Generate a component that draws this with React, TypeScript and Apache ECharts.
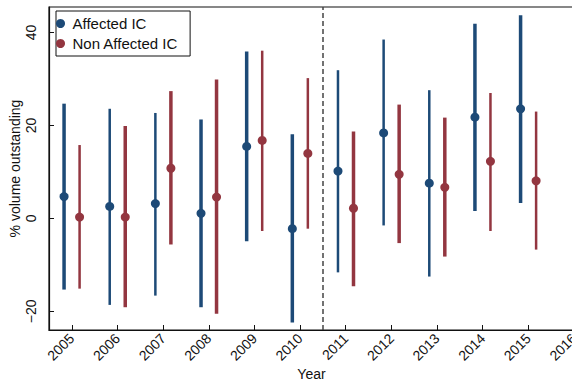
import React, { useEffect, useRef } from "react";
import * as echarts from "echarts";

const years = [2005, 2006, 2007, 2008, 2009, 2010, 2011, 2012, 2013, 2014, 2015];
const affectedMean = [4.7, 2.6, 3.2, 1.1, 15.5, -2.2, 10.2, 18.4, 7.6, 21.8, 23.6];
const affectedLow = [-15.3, -18.6, -16.6, -19.1, -4.9, -22.4, -11.6, -1.5, -12.5, 1.6, 3.3];
const affectedHigh = [24.7, 23.6, 22.7, 21.3, 35.9, 18.1, 31.9, 38.5, 27.6, 41.9, 43.7];
const nonMean = [0.3, 0.3, 10.8, 4.6, 16.8, 14.0, 2.2, 9.5, 6.7, 12.3, 8.1];
const nonLow = [-15.1, -19.1, -5.6, -20.5, -2.7, -2.2, -14.6, -5.3, -8.2, -2.7, -6.7];
const nonHigh = [15.8, 19.9, 27.4, 29.9, 36.1, 30.2, 18.7, 24.5, 21.7, 27.0, 23.0];
const xTickValues = [2005, 2006, 2007, 2008, 2009, 2010, 2011, 2012, 2013, 2014, 2015, 2016];
const yTickValues = [-20, 0, 20, 40];
const breakYear = 2010.5;

// styles
const BLUE = "#1d4a77";
const RED = "#933640";
const OFFSET = 0.17;
const affectedWidths = [3.5, 2.5, 2.5, 3.5, 3.5, 3.5, 2.5, 2.5, 2.5, 3.5, 3.5];
const nonWidths = [2.5, 3.5, 3.5, 3.5, 2.5, 2.5, 3.5, 3.5, 3.5, 2.5, 2.5];
const FONT = "'Liberation Sans', Arial, Helvetica, sans-serif";

function errorSeries(name: string, color: string, shift: number, low: number[], high: number[], widths: number[]) {
  return {
    type: "custom",
    name,
    data: years.map((y, i) => [y + shift, low[i], high[i]]),
    encode: { x: 0, y: [1, 2] },
    z: 2,
    silent: true,
    renderItem: (params: any, api: any) => {
      const x = api.value(0);
      const p1 = api.coord([x, api.value(1)]);
      const p2 = api.coord([x, api.value(2)]);
      return {
        type: "line",
        shape: { x1: p1[0], y1: p1[1], x2: p2[0], y2: p2[1] },
        style: { stroke: color, lineWidth: widths[params.dataIndex], lineCap: "butt" },
      };
    },
  };
}

export default function App() {
  const ref = useRef<HTMLDivElement>(null);
  useEffect(() => {
    document.body.style.margin = "0";
    if (!ref.current) return;
    const chart = echarts.init(ref.current, null, { renderer: "svg" });
    chart.setOption({
      animation: false,
      backgroundColor: "#ffffff",
      textStyle: { fontFamily: FONT },
      grid: {
        left: 49,
        top: 7,
        right: -2,
        bottom: 53,
        show: true,
        borderColor: "#111",
        borderWidth: 1.2,
        containLabel: false,
        outerBoundsMode: "none",
      },
      legend: {
        data: ["Affected IC", "Non Affected IC"],
        orient: "vertical",
        left: 56,
        top: 11,
        icon: "circle",
        itemWidth: 14,
        itemHeight: 9,
        itemGap: 5,
        padding: [5, 12, 5, 0],
        borderColor: "#111",
        borderWidth: 1,
        borderRadius: 0,
        backgroundColor: "#fff",
        textStyle: { fontSize: 15, color: "#111", fontFamily: FONT },
      },
      xAxis: {
        type: "value",
        min: 2004.5,
        max: 2016,
        name: "Year",
        nameLocation: "middle",
        nameGap: 37,
        nameMoveOverlap: false,
        nameTextStyle: { fontSize: 14, color: "#111", fontFamily: FONT },
        splitLine: { show: false },
        axisLine: { show: true, onZero: false, lineStyle: { color: "#111", width: 1.2 } },
        axisTick: { show: true, inside: true, length: 5, customValues: xTickValues, lineStyle: { color: "#111" } },
        axisLabel: {
          rotate: 45,
          fontSize: 14,
          color: "#111",
          margin: 6,
          customValues: xTickValues,
          formatter: (v: number) => String(v),
          fontFamily: FONT,
        },
      },
      yAxis: {
        type: "value",
        min: -24,
        max: 45.5,
        name: "% volume outstanding",
        nameLocation: "middle",
        nameRotate: 90,
        nameGap: 27,
        nameMoveOverlap: false,
        nameTextStyle: { fontSize: 14, color: "#111", fontFamily: FONT },
        splitLine: { show: false },
        axisLine: { show: true, lineStyle: { color: "#111", width: 1.2 } },
        axisTick: { show: true, inside: true, length: 5, customValues: yTickValues, lineStyle: { color: "#111" } },
        axisLabel: {
          rotate: 90,
          fontSize: 14,
          color: "#111",
          margin: 11,
          customValues: yTickValues,
          formatter: (v: number) => (v < 0 ? "\u2212" + Math.abs(v) : String(v)),
          fontFamily: FONT,
        },
      },
      series: [
        errorSeries("affectedCI", BLUE, -OFFSET, affectedLow, affectedHigh, affectedWidths),
        errorSeries("nonCI", RED, OFFSET, nonLow, nonHigh, nonWidths),
        {
          type: "scatter",
          name: "Affected IC",
          symbol: "circle",
          symbolSize: 9,
          itemStyle: { color: BLUE, opacity: 1 },
          z: 3,
          data: years.map((y, i) => [y - OFFSET, affectedMean[i]]),
          markLine: {
            silent: true,
            symbol: "none",
            label: { show: false },
            lineStyle: { color: "#444", type: [5, 3], width: 1.5 },
            data: [{ xAxis: breakYear }],
          },
        },
        {
          type: "scatter",
          name: "Non Affected IC",
          symbol: "circle",
          symbolSize: 9,
          itemStyle: { color: RED, opacity: 1 },
          z: 3,
          data: years.map((y, i) => [y + OFFSET, nonMean[i]]),
        },
      ],
    });
    return () => chart.dispose();
  }, []);
  return <div ref={ref} style={{ width: 572, height: 383, overflow: "hidden" }} />;
}
